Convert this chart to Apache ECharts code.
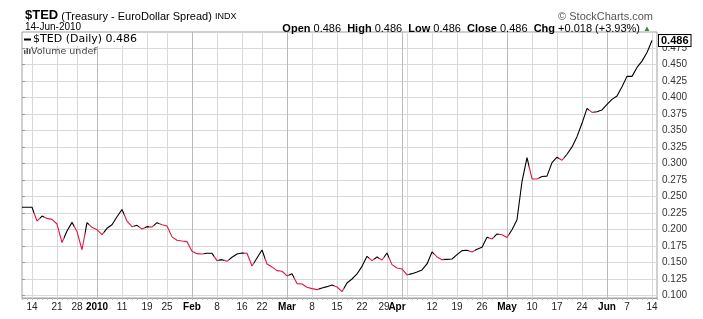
<!DOCTYPE html>
<html><head><meta charset="utf-8">
<script src="https://cdn.jsdelivr.net/npm/echarts@6/dist/echarts.min.js"></script>
<style>html,body{margin:0;padding:0;background:#fff}#c{width:703px;height:319px}</style>
</head><body><div id="c"></div>
<script>
// ---- data ----
const dates = [
 '2009-12-10','2009-12-11','2009-12-14','2009-12-15','2009-12-16','2009-12-17','2009-12-18','2009-12-21','2009-12-22','2009-12-23','2009-12-24','2009-12-28','2009-12-29','2009-12-30','2009-12-31',
 '2010-01-04','2010-01-05','2010-01-06','2010-01-07','2010-01-08','2010-01-11','2010-01-12','2010-01-13','2010-01-14','2010-01-15','2010-01-19','2010-01-20','2010-01-21','2010-01-22','2010-01-25','2010-01-26','2010-01-27','2010-01-28','2010-01-29',
 '2010-02-01','2010-02-02','2010-02-03','2010-02-04','2010-02-05','2010-02-08','2010-02-09','2010-02-10','2010-02-11','2010-02-12','2010-02-16','2010-02-17','2010-02-18','2010-02-19','2010-02-22','2010-02-23','2010-02-24','2010-02-25','2010-02-26',
 '2010-03-01','2010-03-02','2010-03-03','2010-03-04','2010-03-05','2010-03-08','2010-03-09','2010-03-10','2010-03-11','2010-03-12','2010-03-15','2010-03-16','2010-03-17','2010-03-18','2010-03-19','2010-03-22','2010-03-23','2010-03-24','2010-03-25','2010-03-26','2010-03-29','2010-03-30','2010-03-31',
 '2010-04-01','2010-04-05','2010-04-06','2010-04-07','2010-04-08','2010-04-09','2010-04-12','2010-04-13','2010-04-14','2010-04-15','2010-04-16','2010-04-19','2010-04-20','2010-04-21','2010-04-22','2010-04-23','2010-04-26','2010-04-27','2010-04-28','2010-04-29','2010-04-30',
 '2010-05-03','2010-05-04','2010-05-05','2010-05-06','2010-05-07','2010-05-10','2010-05-11','2010-05-12','2010-05-13','2010-05-14','2010-05-17','2010-05-18','2010-05-19','2010-05-20','2010-05-21','2010-05-24','2010-05-25','2010-05-26','2010-05-27','2010-05-28',
 '2010-06-01','2010-06-02','2010-06-03','2010-06-04','2010-06-07','2010-06-08','2010-06-09','2010-06-10','2010-06-11','2010-06-14'
];
const tedValues = [
 0.2335,0.2335,0.2335,0.2125,0.2200,0.2165,0.2150,0.2080,0.1800,0.1975,0.2105,0.1965,0.1690,0.2100,0.2030,
 0.1995,0.1920,0.2015,0.2070,0.2190,0.2300,0.2125,0.2040,0.2060,0.2005,0.2040,0.2035,0.2100,0.2070,0.2050,0.1885,0.1835,0.1823,0.1813,
 0.1667,0.1631,0.1626,0.1636,0.1636,0.1525,0.1540,0.1515,0.1576,0.1626,0.1641,0.1636,0.1444,0.1566,0.1687,0.1475,0.1430,0.1374,0.1364,
 0.1293,0.1328,0.1177,0.1172,0.1121,0.1101,0.1086,0.1111,0.1131,0.1155,0.1126,0.1056,0.1187,0.1247,0.1323,0.1439,0.1591,0.1525,0.1581,0.1535,0.1641,0.1465,0.1414,
 0.1399,0.1308,0.1328,0.1354,0.1384,0.1475,0.1657,0.1581,0.1540,0.1545,0.1550,0.1616,0.1677,0.1682,0.1657,0.1697,0.1727,0.1879,0.1853,0.1929,0.1918,
 0.1877,0.1993,0.2144,0.2724,0.3087,0.2764,0.2762,0.2799,0.2805,0.3011,0.3092,0.3046,0.3137,0.3248,0.3404,0.3606,0.3833,0.3772,0.3782,0.3808,
 0.3893,0.3969,0.4019,0.4160,0.4317,0.4317,0.4453,0.4548,0.4680,0.4860
];
const xTickLabels = [
 ['2009-12-14','14'],['2009-12-21','21'],['2009-12-28','28'],['2010-01-04','2010'],['2010-01-11','11'],['2010-01-19','19'],['2010-01-25','25'],
 ['2010-02-01','Feb'],['2010-02-08','8'],['2010-02-16','16'],['2010-02-22','22'],['2010-03-01','Mar'],['2010-03-08','8'],['2010-03-15','15'],
 ['2010-03-22','22'],['2010-03-29','29'],['2010-04-01','Apr'],['2010-04-12','12'],['2010-04-19','19'],['2010-04-26','26'],['2010-05-03','May'],
 ['2010-05-10','10'],['2010-05-17','17'],['2010-05-24','24'],['2010-06-01','Jun'],['2010-06-07','7'],['2010-06-14','14']
];
const boldLabels = ['2010','Feb','Mar','Apr','May','Jun'];
const weekStarts = ['2009-12-14','2009-12-21','2009-12-28','2010-01-04','2010-01-11','2010-01-19','2010-01-25','2010-02-01','2010-02-08','2010-02-16','2010-02-22',
 '2010-03-01','2010-03-08','2010-03-15','2010-03-22','2010-03-29','2010-04-05','2010-04-12','2010-04-19','2010-04-26','2010-05-03','2010-05-10','2010-05-17','2010-05-24',
 '2010-06-01','2010-06-07','2010-06-14'];
const monthStarts = ['2010-01-04','2010-02-01','2010-03-01','2010-04-01','2010-05-03','2010-06-01'];
const yTickMin = 0.100, yTickMax = 0.475, yTickStep = 0.025;
const headerValues = {open:'0.486', high:'0.486', low:'0.486', close:'0.486', chg:'+0.018 (+3.93%)', date:'14-Jun-2010'};

// ---- layout ----
const RED = '#e0163f';
const FONT = 'Liberation Sans, Arial, sans-serif';
const plotL = 22, plotW = 635, plotT = 32, plotB = 298;
const tickT = 47.8, tickB = 295.3;
const ppu = (tickB - tickT) / (yTickMax - yTickMin);
const yMinA = yTickMin - (plotB - tickB) / ppu;
const yMaxA = yTickMax + (tickT - plotT) / ppu;

const cats = dates.concat(['']);
const labelMap = {}; xTickLabels.forEach(([d, l]) => labelMap[d] = l);
const weekSet = new Set(weekStarts), monthSet = new Set(monthStarts);

const pieces = [];
for (let i = 1; i < tedValues.length; i++) {
  if (tedValues[i] < tedValues[i - 1]) {
    const last = pieces[pieces.length - 1];
    if (last && last.lte === i - 0.5) last.lte = i + 0.5;
    else pieces.push({gt: i - 0.5, lte: i + 0.5, color: RED});
  }
}
const lastVal = tedValues[tedValues.length - 1];

const chart = echarts.init(document.getElementById('c'), null, {renderer: 'canvas'});
chart.setOption({
  animation: false,
  backgroundColor: '#fff',
  title: [
    {left: 20, top: 4, text: '{a|$TED} {b|(Treasury - EuroDollar Spread)} {c|INDX}',
     textStyle: {fontWeight: 'normal', fontSize: 11, fontFamily: FONT, rich: {
       a: {fontFamily: FONT, fontWeight: 'bold', fontSize: 13, color: '#000'},
       b: {fontFamily: FONT, fontWeight: 'normal', fontSize: 11, color: '#000', padding: [2, 0, 0, 0]},
       c: {fontFamily: FONT, fontWeight: 'normal', fontSize: 9, color: '#000', padding: [3, 0, 0, 0]}}}},
    {left: 20, top: 17, text: headerValues.date, textStyle: {fontFamily: FONT, fontSize: 10, fontWeight: 'normal', color: '#000'}},
    {right: 45, top: 6, text: '\u00a9 StockCharts.com', textStyle: {fontFamily: FONT, fontSize: 11, fontWeight: 'normal', color: '#555'}},
    {right: 47, top: 18,
     text: '{k|Open} ' + headerValues.open + '  {k|High} ' + headerValues.high + '  {k|Low} ' + headerValues.low +
           '  {k|Close} ' + headerValues.close + '  {k|Chg} ' + headerValues.chg + ' {g|\u25b2}',
     textStyle: {fontFamily: FONT, fontSize: 11, fontWeight: 'normal', color: '#000',
       rich: {k: {fontFamily: FONT, fontSize: 11, fontWeight: 'bold', color: '#000'},
              g: {fontSize: 8, color: '#2e8b2e'}}}}
  ],
  grid: [
    {left: plotL, top: plotT, width: plotW, height: plotB - plotT, show: true, borderColor: '#a0a0a0', borderWidth: 1, backgroundColor: 'transparent'},
    {left: plotL, top: tickT, width: plotW, height: tickB - tickT}
  ],
  xAxis: [
    {gridIndex: 0, type: 'category', data: cats, boundaryGap: false, position: 'bottom',
     axisLine: {lineStyle: {color: '#a0a0a0'}},
     axisTick: {show: true, interval: 0, length: 2, lineStyle: {color: '#b8b8b8'}},
     axisLabel: {interval: (i, v) => v in labelMap, margin: 4, fontFamily: FONT, fontSize: 10, color: '#222',
       formatter: (v) => {
         const l = labelMap[v]; if (!l) return '';
         if (l === 'Apr') return '{ba|Apr}';
         if (v === '2010-03-29') return '{p|29}';
         return boldLabels.includes(l) ? '{b|' + l + '}' : l;
       },
       rich: {b: {fontFamily: FONT, fontSize: 10, fontWeight: 'bold', color: '#000'},
              ba: {fontFamily: FONT, fontSize: 10, fontWeight: 'bold', color: '#000', padding: [0, 10, 0, 0]},
              p: {fontFamily: FONT, fontSize: 10, color: '#222', padding: [0, 6, 0, 0]}}},
     splitLine: {show: true, interval: (i, v) => weekSet.has(v), lineStyle: {color: '#d8d8d8'}}},
    {gridIndex: 0, type: 'category', data: cats, boundaryGap: false, position: 'bottom',
     axisLine: {show: false}, axisTick: {show: false}, axisLabel: {show: false},
     splitLine: {show: true, interval: (i, v) => monthSet.has(v), lineStyle: {color: '#bababa'}}},
    {gridIndex: 0, type: 'value', min: 0, max: cats.length - 1, show: false},
    {gridIndex: 1, type: 'value', min: 0, max: 1, show: false}
  ],
  yAxis: [
    {gridIndex: 0, type: 'value', min: yMinA, max: yMaxA, show: false},
    {gridIndex: 1, type: 'value', min: yTickMin, max: yTickMax, interval: yTickStep, position: 'right',
     axisLine: {show: false},
     axisTick: {show: true, length: 3, lineStyle: {color: '#999'}},
     axisLabel: {margin: 5, fontFamily: FONT, fontSize: 10, color: '#333', formatter: (v) => v.toFixed(3)},
     splitLine: {show: true, lineStyle: {color: '#d8d8d8'}}}
  ],
  visualMap: {type: 'piecewise', show: false, dimension: 0, seriesIndex: 0, pieces: pieces, outOfRange: {color: '#000'}},
  series: [{
    name: '$TED (Daily)', type: 'line', xAxisIndex: 2, yAxisIndex: 0,
    data: tedValues.map((v, i) => [i, v]),
    symbol: 'none', showSymbol: false, lineStyle: {width: 1.1}, z: 5,
    endLabel: {show: true, distance: 7, formatter: () => lastVal.toFixed(3),
      fontFamily: FONT, fontSize: 11, fontWeight: 'bold', color: '#000',
      backgroundColor: '#fff', borderColor: '#000', borderWidth: 1, padding: [0, 2, 0, 2]}
  }],
  graphic: [
    {type: 'rect', z: 10, shape: {x: 23, y: 33, width: 123, height: 13}, style: {fill: '#fff'}},
    {type: 'line', z: 11, shape: {x1: 24, y1: 39.5, x2: 31, y2: 39.5}, style: {stroke: '#000', lineWidth: 2}},
    {type: 'text', z: 11, x: 33, y: 34, style: {text: '$TED (Daily) ' + lastVal.toFixed(3), font: '11px DejaVu Sans', fill: '#000'}},
    {type: 'rect', z: 11, shape: {x: 24, y: 50, width: 1.5, height: 4}, style: {fill: '#555'}},
    {type: 'rect', z: 11, shape: {x: 26.5, y: 48, width: 1.5, height: 6}, style: {fill: '#555'}},
    {type: 'rect', z: 11, shape: {x: 29, y: 49, width: 1.5, height: 5}, style: {fill: '#555'}},
    {type: 'text', z: 11, x: 31, y: 47, style: {text: 'Volume undef', font: '9.5px DejaVu Sans', fill: '#444'}}
  ]
});
</script></body></html>
